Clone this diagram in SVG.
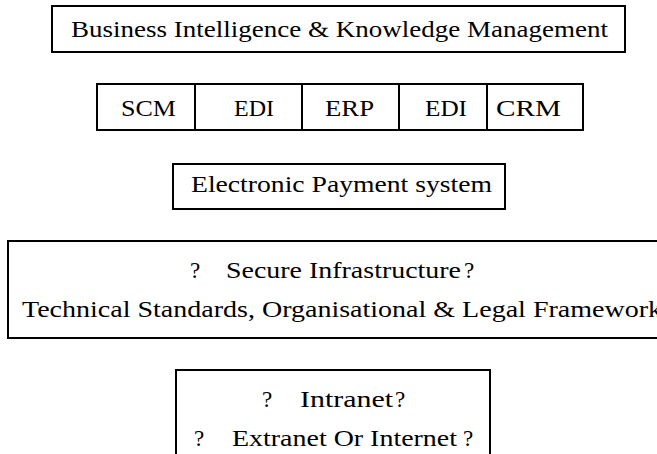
<svg xmlns="http://www.w3.org/2000/svg" width="657" height="454" viewBox="0 0 657 454">
<style>
.box{fill:#fff;stroke:#000;stroke-width:2}
.div{stroke:#000;stroke-width:2}
.t{font-family:"Liberation Serif","Times New Roman",serif;font-size:23px;fill:#000}
</style>
<rect width="657" height="454" fill="#fff"/>
<g id="bi">
<rect class="box" x="52" y="6" width="573" height="46"/>
<text class="t" x="71" y="37" textLength="537" lengthAdjust="spacingAndGlyphs">Business Intelligence &amp; Knowledge Management</text>
</g>
<g id="apps">
<rect class="box" x="97" y="84" width="486" height="46"/>
<line class="div" x1="195" y1="84" x2="195" y2="130"/>
<line class="div" x1="302" y1="84" x2="302" y2="130"/>
<line class="div" x1="399" y1="84" x2="399" y2="130"/>
<line class="div" x1="487" y1="84" x2="487" y2="130"/>
<text class="t" x="121" y="116" textLength="55" lengthAdjust="spacingAndGlyphs">SCM</text>
<text class="t" x="234" y="116" textLength="40" lengthAdjust="spacingAndGlyphs">EDI</text>
<text class="t" x="325" y="116" textLength="49" lengthAdjust="spacingAndGlyphs">ERP</text>
<text class="t" x="425" y="116" textLength="42" lengthAdjust="spacingAndGlyphs">EDI</text>
<text class="t" x="496" y="116" textLength="65" lengthAdjust="spacingAndGlyphs">CRM</text>
</g>
<g id="eps">
<rect class="box" x="173" y="164" width="332" height="45"/>
<text class="t" x="191" y="192" textLength="301" lengthAdjust="spacingAndGlyphs">Electronic Payment system</text>
</g>
<g id="infra">
<rect class="box" x="8" y="241" width="700" height="97"/>
<text class="t" x="190" y="278">?</text>
<text class="t" x="226" y="278" textLength="235" lengthAdjust="spacingAndGlyphs">Secure Infrastructure</text>
<text class="t" x="464" y="278">?</text>
<text class="t" x="22" y="317" textLength="640" lengthAdjust="spacingAndGlyphs">Technical Standards, Organisational &amp; Legal Framework</text>
</g>
<g id="net">
<rect class="box" x="176" y="370" width="314" height="100"/>
<text class="t" x="262" y="407">?</text>
<text class="t" x="300" y="407" textLength="93" lengthAdjust="spacingAndGlyphs">Intranet</text>
<text class="t" x="395" y="407">?</text>
<text class="t" x="194" y="446">?</text>
<text class="t" x="232" y="446" textLength="225" lengthAdjust="spacingAndGlyphs">Extranet Or Internet</text>
<text class="t" x="463" y="446">?</text>
</g>
<g id="connectors"/>
</svg>
